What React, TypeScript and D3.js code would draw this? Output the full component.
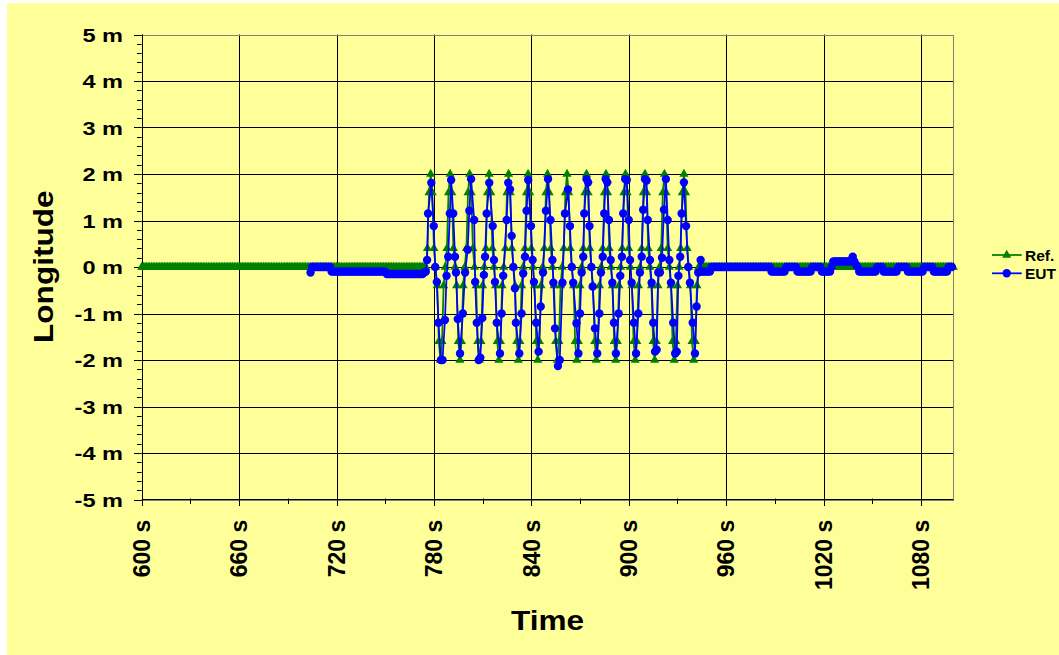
import React from 'react';
import * as d3 from 'd3';

// ---------- data ----------
const xTickValues = [600, 660, 720, 780, 840, 900, 960, 1020, 1080];
const xTickLabels = ['600 s', '660 s', '720 s', '780 s', '840 s', '900 s', '960 s', '1020 s', '1080 s'];
const yTickValues = [5, 4, 3, 2, 1, 0, -1, -2, -3, -4, -5];
const yTickLabels = ['5 m', '4 m', '3 m', '2 m', '1 m', '0 m', '-1 m', '-2 m', '-3 m', '-4 m', '-5 m'];
const seriesNames = ['Ref.', 'EUT'];

// Ref.: one sample per second from 600 s to 1100 s
const REF_START = 600;
const refValues = [
  // 600-774 s
  0,0,0,0,0, 0,0,0,0,0, 0,0,0,0,0, 0,0,0,0,0, 0,0,0,0,0,
  0,0,0,0,0, 0,0,0,0,0, 0,0,0,0,0, 0,0,0,0,0, 0,0,0,0,0,
  0,0,0,0,0, 0,0,0,0,0, 0,0,0,0,0, 0,0,0,0,0, 0,0,0,0,0,
  0,0,0,0,0, 0,0,0,0,0, 0,0,0,0,0, 0,0,0,0,0, 0,0,0,0,0,
  0,0,0,0,0, 0,0,0,0,0, 0,0,0,0,0, 0,0,0,0,0, 0,0,0,0,0,
  0,0,0,0,0, 0,0,0,0,0, 0,0,0,0,0, 0,0,0,0,0, 0,0,0,0,0,
  0,0,0,0,0, 0,0,0,0,0, 0,0,0,0,0, 0,0,0,0,0, 0,0,0,0,0,
  // 775 s
  0,
  // 776-943 s
  0.4, 1.6, 2, 1.6, 0.4, 0, -0.4, -1.6, -2, -1.6, -0.4, 0,
  0.4, 1.6, 2, 1.6, 0.4, 0, -0.4, -1.6, -2, -1.6, -0.4, 0,
  0.4, 1.6, 2, 1.6, 0.4, 0, -0.4, -1.6, -2, -1.6, -0.4, 0,
  0.4, 1.6, 2, 1.6, 0.4, 0, -0.4, -1.6, -2, -1.6, -0.4, 0,
  0.4, 1.6, 2, 1.6, 0.4, 0, -0.4, -1.6, -2, -1.6, -0.4, 0,
  0.4, 1.6, 2, 1.6, 0.4, 0, -0.4, -1.6, -2, -1.6, -0.4, 0,
  0.4, 1.6, 2, 1.6, 0.4, 0, -0.4, -1.6, -2, -1.6, -0.4, 0,
  0.4, 1.6, 2, 1.6, 0.4, 0, -0.4, -1.6, -2, -1.6, -0.4, 0,
  0.4, 1.6, 2, 1.6, 0.4, 0, -0.4, -1.6, -2, -1.6, -0.4, 0,
  0.4, 1.6, 2, 1.6, 0.4, 0, -0.4, -1.6, -2, -1.6, -0.4, 0,
  0.4, 1.6, 2, 1.6, 0.4, 0, -0.4, -1.6, -2, -1.6, -0.4, 0,
  0.4, 1.6, 2, 1.6, 0.4, 0, -0.4, -1.6, -2, -1.6, -0.4, 0,
  0.4, 1.6, 2, 1.6, 0.4, 0, -0.4, -1.6, -2, -1.6, -0.4, 0,
  0.4, 1.6, 2, 1.6, 0.4, 0, -0.4, -1.6, -2, -1.6, -0.4, 0,
  // 944-1100 s
  0,0,0,0,0, 0,0,0,0,0, 0,0,0,0,0, 0,0,0,0,0, 0,0,0,0,0,
  0,0,0,0,0, 0,0,0,0,0, 0,0,0,0,0, 0,0,0,0,0, 0,0,0,0,0,
  0,0,0,0,0, 0,0,0,0,0, 0,0,0,0,0, 0,0,0,0,0, 0,0,0,0,0,
  0,0,0,0,0, 0,0,0,0,0, 0,0,0,0,0, 0,0,0,0,0, 0,0,0,0,0,
  0,0,0,0,0, 0,0,0,0,0, 0,0,0,0,0, 0,0,0,0,0, 0,0,0,0,0,
  0,0,0,0,0, 0,0,0,0,0, 0,0,0,0,0, 0,0,0,0,0, 0,0,0,0,0,
  0,0,0,0,0, 0,0,
];

// EUT before the manoeuvre: one sample per second, 704-775 s
const EUT_PRE_START = 704;
const eutPreValues = [
  -0.12,
  0, 0, 0, 0, 0, 0, 0, 0, 0, 0, 0, 0,
  -0.1, -0.1, -0.1, -0.1, -0.1, -0.1, -0.1, -0.1, -0.1, -0.1, -0.1, -0.1, -0.1, -0.1, -0.1, -0.1, -0.1,
  -0.1, -0.1, -0.1, -0.1, -0.1, -0.1, -0.1, -0.1, -0.1, -0.1, -0.1, -0.1, -0.1, -0.1, -0.1, -0.1, -0.1,
  -0.15, -0.15, -0.15, -0.15, -0.15, -0.15, -0.15, -0.15, -0.15, -0.15, -0.15, -0.15,
  -0.15, -0.15, -0.15, -0.15, -0.15, -0.15, -0.15, -0.15, -0.15, -0.15, -0.15,
  -0.12, -0.1,
];

// EUT during the manoeuvre: [time s, value m]
const eutOscPoints: [number, number][] = [
  [775.8, 0.15], [776.4, 1.15], [778.4, 1.81], [779.9, 0.88], [780.8, 0.0], [781.8, -0.32],
  [782.8, -1.2], [784.3, -2.0], [785.3, -2.0], [786.8, -1.14], [787.8, -0.19], [788.8, 0.22],
  [789.8, 1.15], [790.6, 1.87], [791.9, 1.15], [793.0, 0.22], [793.6, -0.12], [794.7, -1.12],
  [796.1, -1.86], [797.8, -1.0], [799.2, -0.12], [800.8, 0.37], [801.8, 1.21], [802.9, 1.89],
  [804.8, 1.01], [805.4, -0.32], [806.4, -1.2], [807.6, -2.0], [808.6, -1.95], [809.8, -1.1],
  [810.8, -0.17], [811.5, 0.22], [812.5, 1.15], [814.1, 1.81], [816.2, 0.88], [817.0, 0.15],
  [817.6, -0.32], [818.7, -1.2], [820.7, -1.86], [821.7, -1.0], [822.7, -0.19], [824.8, 1.01],
  [825.8, 1.81], [826.9, 1.67], [827.9, 0.67], [828.9, 0.0], [829.9, -0.46], [830.5, -1.2],
  [832.6, -1.86], [834.0, -1.0], [835.0, -0.14], [836.1, 0.22], [837.1, 1.21], [838.1, 1.87],
  [839.8, 0.88], [840.8, 0.15], [841.6, -0.32], [843.0, -1.2], [844.5, -1.82], [845.8, -0.85],
  [847.2, -0.12], [849.0, 1.21], [850.3, 1.89], [851.8, 1.01], [853.0, 0.15], [853.6, -0.34],
  [854.6, -1.32], [856.4, -2.13], [857.5, -2.0], [859.2, -0.34], [860.7, 1.15], [862.6, 1.67],
  [863.8, 0.88], [864.9, 0.0], [865.8, -0.34], [867.8, -1.21], [869.0, -1.86], [870.0, -1.0],
  [871.0, -0.12], [872.0, 0.22], [872.6, 1.15], [874.0, 1.89], [875.0, 1.82], [875.8, 0.88],
  [877.0, 0.0], [877.8, -0.42], [879.2, -1.32], [880.6, -1.86], [881.9, -1.0], [882.9, -0.12],
  [884.0, 0.22], [884.9, 1.15], [885.8, 1.89], [886.8, 1.82], [887.8, 1.01], [888.9, 0.15],
  [889.9, -0.34], [890.9, -1.2], [892.1, -1.86], [893.8, -1.0], [894.8, -0.19], [895.8, 0.22],
  [896.6, 1.15], [897.8, 1.89], [898.8, 1.87], [900.0, 1.01], [900.8, 0.15], [901.8, -0.34],
  [903.2, -1.2], [904.5, -1.86], [905.9, -1.0], [906.9, -0.12], [908.0, 0.22], [908.9, 1.23],
  [910.0, 1.89], [911.0, 1.86], [911.7, 1.01], [913.1, 0.15], [914.1, -0.34], [915.1, -1.2],
  [916.2, -1.82], [917.2, -1.78], [918.2, -0.12], [919.2, -0.12], [920.5, 0.2], [921.7, 1.23],
  [922.9, 1.89], [924.0, 1.01], [925.0, 0.15], [926.0, -0.34], [927.4, -1.2], [928.6, -1.86],
  [929.6, -1.82], [930.6, -0.19], [931.7, 0.22], [932.6, 1.15], [934.0, 1.82], [935.3, 0.88],
  [936.7, 0.0], [937.7, -0.34], [939.4, -1.2], [940.8, -1.86], [941.8, -0.85], [942.8, -0.12],
  [944.3, 0.15],
];

// EUT after the manoeuvre: one sample per second, 945-1099 s
const EUT_POST_START = 945;
const eutPostValues = [
  -0.1, -0.1, -0.1, -0.1, -0.1, -0.1,
  0,0,0,0,0, 0,0,0,0,0, 0,0,0,0,0, 0,0,0,0,0, 0,0,0,0,0, 0,0,0,0,0, 0,0,0,0,0, 0,0,
  -0.1, -0.1, -0.1, -0.1, -0.1, -0.1, -0.1, -0.1, -0.1,
  0, 0, 0, 0, 0, 0, 0,
  -0.1, -0.1, -0.1, -0.1, -0.1, -0.1, -0.1, -0.1, -0.1,
  0, 0, 0, 0, 0, 0,
  -0.1, -0.1, -0.1, -0.1, -0.1, -0.1,
  0,
  0.12, 0.12, 0.12, 0.12, 0.12, 0.12, 0.12, 0.12, 0.12, 0.12, 0.12,
  0.15, 0.22, 0.12, 0.05, 0,
  -0.1, -0.1, -0.1, -0.1, -0.1, -0.1, -0.1, -0.1, -0.1, -0.1, -0.1,
  0, 0, 0, 0,
  -0.1, -0.1, -0.1, -0.1, -0.1, -0.1, -0.1, -0.1, -0.1,
  0, 0, 0, 0, 0, 0,
  -0.1, -0.1, -0.1, -0.1, -0.1, -0.1, -0.1, -0.1, -0.1, -0.1,
  0, 0, 0, 0, 0, 0,
  -0.1, -0.1, -0.1, -0.1, -0.1, -0.1, -0.1, -0.1, -0.1,
  0, 0, 0,
];

// ---------- chart ----------
const W = 1059;
const H = 655;
const FONT = '"Liberation Sans", Arial, Helvetica, sans-serif';
const GREEN = '#008000';
const BLUE = '#0000FF';
const BG = '#FFFF99';

export default function App() {
  const x = d3.scaleLinear().domain([600, 1100]).range([141.7, 953.4]);
  const y = d3.scaleLinear().domain([-5, 5]).range([499.5, 34.5]);

  const refPts: [number, number][] = refValues.map((v, i) => [REF_START + i, v]);
  const eutPts: [number, number][] = [
    ...eutPreValues.map((v, i) => [EUT_PRE_START + i, v] as [number, number]),
    ...eutOscPoints,
    ...eutPostValues.map((v, i) => [EUT_POST_START + i, v] as [number, number]),
  ];

  const line = d3
    .line<[number, number]>()
    .x((d) => x(d[0]))
    .y((d) => y(d[1]));

  const tri = d3.symbol(d3.symbolTriangle, 36)() as string;

  const [x0, x1] = x.range();
  const [yB, yT] = y.range();

  const xMinor = d3.range(630, 1100, 60);
  const yMinor = d3.range(-50, 51, 2).map((v) => v / 10).filter((v) => Math.abs(v - Math.round(v)) > 1e-6);

  return (
    <svg
      width={W}
      height={H}
      style={{ position: 'absolute', left: 0, top: 0, display: 'block' }}
      fontFamily={FONT}
    >
      <rect x={7} y={3} width={W - 7} height={H - 3} fill={BG} />

      {/* gridlines */}
      {yTickValues.map((v) => (
        <line key={'gy' + v} x1={x0} x2={x1} y1={Math.round(y(v)) + 0.5} y2={Math.round(y(v)) + 0.5} stroke="#000" strokeWidth={1} />
      ))}
      {xTickValues.map((v) => (
        <line key={'gx' + v} x1={Math.round(x(v)) + 0.5} x2={Math.round(x(v)) + 0.5} y1={yT} y2={yB} stroke="#000" strokeWidth={1} />
      ))}
      {/* plot border */}
      <rect x={Math.round(x0) + 0.5} y={Math.round(yT) + 0.5} width={Math.round(x1) - Math.round(x0)} height={Math.round(yB) - Math.round(yT)} fill="none" stroke="#808080" strokeWidth={1} />

      {/* axes */}
      <line x1={Math.round(x0) + 0.5} x2={Math.round(x0) + 0.5} y1={yT} y2={yB} stroke="#000" strokeWidth={1} />
      <line x1={x0} x2={x1} y1={Math.round(yB) - 0.5} y2={Math.round(yB) - 0.5} stroke="#000" strokeWidth={1} />

      {/* y ticks */}
      {yTickValues.map((v) => (
        <line key={'ty' + v} x1={134} x2={x0} y1={Math.round(y(v)) + 0.5} y2={Math.round(y(v)) + 0.5} stroke="#000" />
      ))}
      {yMinor.map((v) => (
        <line key={'tym' + v} x1={137} x2={x0} y1={Math.round(y(v)) + 0.5} y2={Math.round(y(v)) + 0.5} stroke="#000" />
      ))}
      {/* x ticks */}
      {xTickValues.map((v) => (
        <line key={'tx' + v} x1={Math.round(x(v)) + 0.5} x2={Math.round(x(v)) + 0.5} y1={yB - 1} y2={506} stroke="#000" />
      ))}
      {xMinor.map((v) => (
        <line key={'txm' + v} x1={Math.round(x(v)) + 0.5} x2={Math.round(x(v)) + 0.5} y1={yB - 1} y2={504} stroke="#000" />
      ))}

      {/* y tick labels */}
      {yTickValues.map((v, i) => (
        <text
          key={'ly' + v}
          transform={`translate(123,${y(v) + 7}) scale(1.24,1)`}
          textAnchor="end"
          fontSize={19}
          fontWeight="bold"
          fill="#000"
        >
          {yTickLabels[i]}
        </text>
      ))}
      {/* x tick labels */}
      {xTickValues.map((v, i) => (
        <text
          key={'lx' + v}
          transform={`translate(${x(v) + 8.3},519.7) rotate(-90)`}
          textAnchor="end"
          fontSize={23}
          fontWeight="bold"
          fill="#000"
        >
          {xTickLabels[i]}
        </text>
      ))}

      {/* axis titles */}
      <text transform="translate(52.7,266.7) rotate(-90) scale(1.17,1)" textAnchor="middle" fontSize={27} fontWeight="bold">
        Longitude
      </text>
      <text transform="translate(547.5,630) scale(1.17,1)" textAnchor="middle" fontSize={27} fontWeight="bold">
        Time
      </text>

      {/* Ref. series */}
      <path d={line(refPts) ?? ''} fill="none" stroke={GREEN} strokeWidth={1.75} />
      {refPts.map((d, i) => (
        <path key={'r' + i} d={tri} transform={`translate(${x(d[0])},${y(d[1])})`} fill={GREEN} />
      ))}

      {/* EUT series */}
      <path d={line(eutPts) ?? ''} fill="none" stroke={BLUE} strokeWidth={1.75} />
      {eutPts.map((d, i) => (
        <circle key={'e' + i} cx={x(d[0])} cy={y(d[1])} r={4.2} fill={BLUE} />
      ))}

      {/* legend */}
      <line x1={992} x2={1021.7} y1={255} y2={255} stroke={GREEN} strokeWidth={1.75} />
      <path d={tri} transform="translate(1006.7,255)" fill={GREEN} />
      <text x={1025} y={260.5} fontSize={15.5} fontWeight="bold">{seriesNames[0]}</text>
      <line x1={992} x2={1021.7} y1={273.3} y2={273.3} stroke={BLUE} strokeWidth={1.75} />
      <circle cx={1006.7} cy={273.3} r={4.2} fill={BLUE} />
      <text x={1025} y={278.8} fontSize={15.5} fontWeight="bold">{seriesNames[1]}</text>
    </svg>
  );
}
